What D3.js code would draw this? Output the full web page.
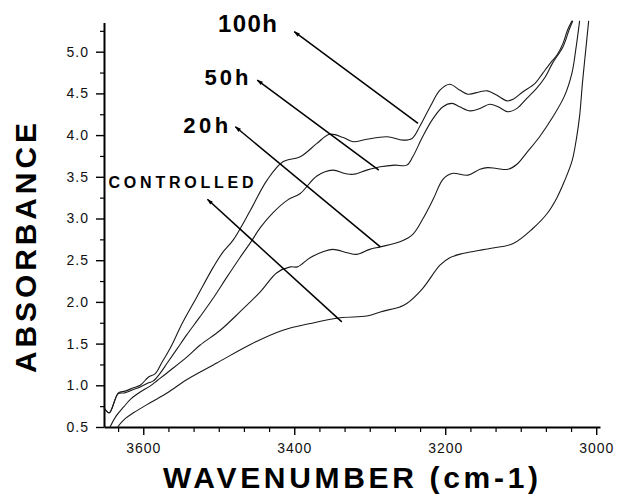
<!DOCTYPE html>
<html>
<head>
<meta charset="utf-8">
<script src="https://cdn.jsdelivr.net/npm/d3@7"></script>
<style>
  body { margin: 0; background: #fff; }
  svg { display: block; }
</style>
</head>
<body>
<svg id="chart" width="617" height="494"></svg>
<script>
// Absorbance spectra (wavenumber in cm-1, absorbance)
const wn100h = [3652,3645,3633,3624,3613,3604,3593,3584,3575,3564,3548,3529,3507,3495,3481,3458,3436,3415,3392,3370,3353,3335,3322,3304,3277,3256,3244,3234,3220,3207,3194,3181,3170,3154,3144,3132,3118,3110,3097,3081,3071,3061,3052,3044,3038,3032];
const abs100h = [0.73,0.67,0.91,0.93,0.97,1.00,1.10,1.14,1.28,1.45,1.75,2.06,2.42,2.59,2.74,3.10,3.46,3.68,3.74,3.90,4.01,3.97,3.92,3.95,3.98,3.94,3.96,4.10,4.34,4.54,4.61,4.54,4.49,4.52,4.53,4.48,4.41,4.43,4.52,4.62,4.74,4.86,4.96,5.10,5.26,5.37];

const wn50h = [3652,3645,3633,3624,3613,3604,3593,3587,3578,3568,3555,3542,3525,3507,3489,3472,3458,3445,3428,3409,3392,3370,3349,3333,3322,3304,3286,3267,3251,3243,3230,3216,3203,3191,3181,3167,3154,3141,3130,3117,3105,3092,3079,3068,3058,3044,3036,3031];
const abs50h = [0.73,0.67,0.90,0.91,0.95,0.98,1.03,1.05,1.14,1.27,1.44,1.61,1.82,2.05,2.30,2.53,2.71,2.89,3.07,3.22,3.30,3.51,3.58,3.54,3.53,3.58,3.62,3.64,3.64,3.74,3.98,4.20,4.34,4.38,4.34,4.29,4.32,4.37,4.34,4.28,4.32,4.44,4.56,4.69,4.86,5.06,5.26,5.37];

const wn20h = [3644,3636,3626,3616,3604,3591,3581,3564,3542,3525,3498,3472,3445,3423,3405,3396,3379,3362,3349,3330,3317,3300,3286,3260,3243,3230,3216,3203,3191,3170,3154,3144,3132,3117,3105,3092,3075,3058,3042,3032,3027,3022];
const abs20h = [0.50,0.63,0.74,0.84,0.92,0.99,1.06,1.18,1.34,1.48,1.66,1.88,2.12,2.35,2.42,2.42,2.53,2.60,2.63,2.59,2.57,2.63,2.66,2.72,2.81,2.99,3.23,3.47,3.54,3.52,3.59,3.61,3.60,3.59,3.65,3.79,3.98,4.21,4.47,4.75,5.03,5.37];

const wnCtrl = [3634,3624,3613,3591,3568,3542,3502,3458,3415,3379,3339,3304,3286,3260,3251,3230,3207,3194,3177,3141,3110,3084,3065,3052,3042,3032,3026,3022,3018,3014,3010];
const absCtrl = [0.50,0.60,0.67,0.79,0.91,1.07,1.27,1.49,1.66,1.74,1.81,1.83,1.88,1.94,1.98,2.16,2.44,2.53,2.58,2.64,2.70,2.88,3.06,3.25,3.45,3.69,3.97,4.23,4.65,5.01,5.37];

// tick labels
const xTicks = [3600, 3400, 3200, 3000];
const yTicks = [0.5, 1.0, 1.5, 2.0, 2.5, 3.0, 3.5, 4.0, 4.5, 5.0];

// annotation labels and arrows, in data units
const labels = ["100h", "50h", "20h", "CONTROLLED"];
const labelPos = [[3501, 5.24], [3519, 4.60], [3547, 4.03], [3646, 3.37]];
const arrowTip = [[3400, 5.24], [3449, 4.66], [3478, 4.10], [3515, 3.23]];
const arrowTail = [[3236, 4.14], [3288, 3.58], [3286, 2.66], [3337, 1.76]];

const svg = d3.select("#chart");

const x = d3.scaleLinear().domain([3652, 2995]).range([104, 600]);
const y = d3.scaleLinear().domain([0.5, 5.35]).range([427, 22.5]);

const font = "'Liberation Sans', Arial, sans-serif";

// Y axis - minor ticks
svg.append("g")
  .attr("transform", "translate(104,0)")
  .call(d3.axisLeft(y).tickValues(d3.range(0.75, 5.3, 0.5)).tickSize(4).tickFormat(""))
  .call(g => g.select(".domain").remove())
  .selectAll("line").attr("stroke", "#000").attr("stroke-width", 1.2);

// Y axis - major
const yAxis = svg.append("g")
  .attr("transform", "translate(104,0)")
  .call(d3.axisLeft(y).tickValues(yTicks).tickSize(8).tickPadding(7).tickSizeOuter(0).tickFormat(d3.format(".1f")));
yAxis.select(".domain").attr("stroke", "#000").attr("stroke-width", 2);
yAxis.selectAll("line").attr("stroke", "#000").attr("stroke-width", 1.4);
yAxis.selectAll("text")
  .style("font-family", font).style("font-size", "14px").style("letter-spacing", "1px")
  .attr("fill", "#111");

// X axis - minor ticks
const minorX = d3.range(3633.33, 2990, -33.333).filter(v => Math.abs(v / 200 - Math.round(v / 200)) > 0.01);
svg.append("g")
  .attr("transform", "translate(0,427)")
  .call(d3.axisBottom(x).tickValues(minorX).tickSize(5).tickFormat(""))
  .call(g => g.select(".domain").remove())
  .selectAll("line").attr("stroke", "#000").attr("stroke-width", 1.2);

// X axis - major
const xAxis = svg.append("g")
  .attr("transform", "translate(0,427)")
  .call(d3.axisBottom(x).tickValues(xTicks).tickSize(8).tickPadding(8).tickSizeOuter(0).tickFormat(d3.format("d")));
xAxis.select(".domain").attr("stroke", "#000").attr("stroke-width", 2);
xAxis.selectAll("line").attr("stroke", "#000").attr("stroke-width", 1.4);
xAxis.selectAll("text")
  .style("font-family", font).style("font-size", "14px").style("letter-spacing", "1px")
  .attr("fill", "#111");

// Axis titles
svg.append("text")
  .attr("x", 163).attr("y", 488)
  .attr("textLength", 375).attr("lengthAdjust", "spacing")
  .style("font-family", font).style("font-weight", "bold").style("font-size", "30px")
  .attr("fill", "#000")
  .text("WAVENUMBER (cm-1)");

svg.append("text")
  .attr("transform", "translate(36,373) rotate(-90)")
  .attr("textLength", 250).attr("lengthAdjust", "spacing")
  .style("font-family", font).style("font-weight", "bold").style("font-size", "30px")
  .attr("fill", "#000")
  .text("ABSORBANCE");

// Spectra
const line = d3.line()
  .x(d => x(d[0]))
  .y(d => y(d[1]))
  .curve(d3.curveCatmullRom.alpha(0.5));

const series = [
  [wn100h, abs100h],
  [wn50h, abs50h],
  [wn20h, abs20h],
  [wnCtrl, absCtrl]
];

svg.append("g")
  .selectAll("path")
  .data(series.map(([w, a]) => w.map((v, i) => [v, a[i]])))
  .join("path")
  .attr("fill", "none")
  .attr("stroke", "#1a1a1a")
  .attr("stroke-width", 1.1)
  .attr("d", line);

// Arrow marker
svg.append("defs").append("marker")
  .attr("id", "head")
  .attr("viewBox", "0 -4 10 8")
  .attr("refX", 1).attr("refY", 0)
  .attr("markerWidth", 7).attr("markerHeight", 5)
  .attr("markerUnits", "userSpaceOnUse")
  .attr("orient", "auto")
  .append("path")
  .attr("d", "M10,-3.2L0,0L10,3.2Z")
  .attr("fill", "#000");

// Annotations
const labelSize = [24, 22, 22, 16];
const labelLen = [59, 44, 45, 145];

labels.forEach((lab, i) => {
  svg.append("line")
    .attr("x1", x(arrowTip[i][0])).attr("y1", y(arrowTip[i][1]))
    .attr("x2", x(arrowTail[i][0])).attr("y2", y(arrowTail[i][1]))
    .attr("stroke", "#000").attr("stroke-width", 1.5)
    .attr("marker-start", "url(#head)");

  svg.append("text")
    .attr("x", x(labelPos[i][0])).attr("y", y(labelPos[i][1]))
    .attr("textLength", labelLen[i]).attr("lengthAdjust", "spacing")
    .style("font-family", font).style("font-weight", "bold").style("font-size", labelSize[i] + "px")
    .attr("fill", "#000")
    .text(lab);
});
</script>
</body>
</html>
